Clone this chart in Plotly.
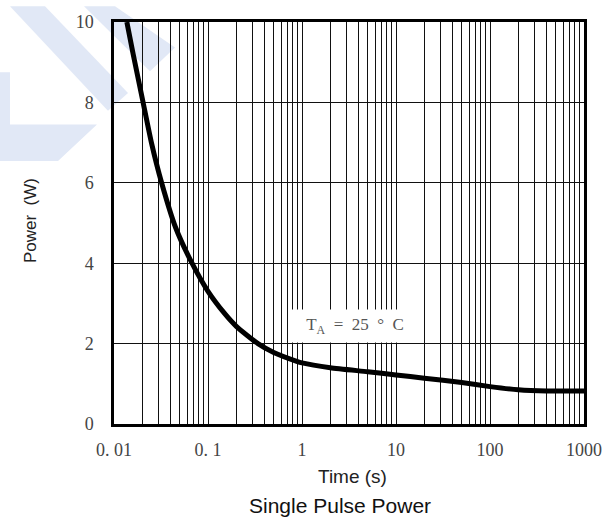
import math
import plotly.graph_objects as go

# ---- data ----
time_s = [0.0137, 0.016, 0.0204, 0.025, 0.0321, 0.045, 0.0676, 0.1, 0.15, 0.2, 0.34,
          0.5, 0.88, 1.0, 2.0, 5.0, 10.0, 20.0, 50.0, 100.0, 200.0, 400.0, 1000.0]
power_w = [10.0, 9.2, 8.0, 7.0, 6.0, 4.9, 4.0, 3.3, 2.75, 2.43, 2.0,
           1.78, 1.56, 1.52, 1.40, 1.30, 1.22, 1.14, 1.03, 0.93, 0.85, 0.82, 0.82]

x_decades = [0.01, 0.1, 1, 10, 100, 1000]
x_tick_labels = ["0. 01", "0. 1", "1", "10", "100", "1000"]
y_ticks = [0, 2, 4, 6, 8, 10]
y_tick_labels = ["0", "2", "4", "6", "8", "10"]

# ---- figure geometry (pixels) ----
W, H = 616, 519
L, R, T, B = 114, 32, 16, 95
PW, PH = W - L - R, H - T - B


def paper(px, py):
    return (px - L) / PW, (H - B - py) / PH


def path(points):
    pts = [paper(x, y) for x, y in points]
    return "M " + " L ".join(f"{x:.4f},{y:.4f}" for x, y in pts) + " Z"


# all log grid positions (1..9 in each decade)
tickvals, ticktext = [], []
for d, lab in zip(x_decades[:-1], x_tick_labels[:-1]):
    for k in range(1, 10):
        tickvals.append(d * k)
        ticktext.append(lab if k == 1 else "")
tickvals.append(x_decades[-1])
ticktext.append(x_tick_labels[-1])

fig = go.Figure()
fig.add_trace(go.Scatter(
    x=time_s, y=power_w, mode="lines",
    line=dict(color="black", width=5, shape="spline", smoothing=0.6),
    showlegend=False, hoverinfo="skip",
))

wm = "rgb(225,232,246)"
shapes = [
    dict(type="path", xref="paper", yref="paper", layer="below", line_width=0, fillcolor=wm,
         path=path([(10, 0), (45, 0), (128, 88), (108, 106)])),
    dict(type="path", xref="paper", yref="paper", layer="below", line_width=0, fillcolor=wm,
         path=path([(84, 0), (115, 0), (175, 42), (150, 66)])),
    dict(type="path", xref="paper", yref="paper", layer="below", line_width=0, fillcolor=wm,
         path=path([(0, 67), (10, 67), (10, 120), (97, 120), (58, 157), (0, 157)])),
]

serif = "Liberation Serif, DejaVu Serif, serif"
tick_font = dict(family=serif, size=18, color="#444")
sans = "Liberation Sans, Arial, sans-serif"

ann_x, ann_y = 3.66, 2.45
tx, ty1 = paper(352, 477)
_, ty2 = paper(340, 507)
px_, py_ = paper(30, 218)

fig.update_layout(
    width=W, height=H,
    margin=dict(l=L, r=R, t=T, b=B),
    paper_bgcolor="white", plot_bgcolor="rgba(0,0,0,0)",
    shapes=shapes,
    xaxis=dict(
        type="log", range=[-2, 3],
        tickmode="array", tickvals=tickvals, ticktext=ticktext,
        showgrid=True, gridcolor="#111", gridwidth=1,
        showline=True, linecolor="black", linewidth=2.5, mirror=True,
        ticks="", ticklabelstandoff=8, tickfont=tick_font, zeroline=False,
    ),
    yaxis=dict(
        range=[0, 10], tickmode="array", tickvals=y_ticks, ticktext=y_tick_labels,
        showgrid=True, gridcolor="#111", gridwidth=1,
        showline=True, linecolor="black", linewidth=2.5, mirror=True,
        ticks="", ticklabelstandoff=14, tickfont=tick_font, zeroline=False,
    ),
    annotations=[
        dict(x=math.log10(ann_x), y=ann_y, xref="x", yref="y",
             text="T<sub>A</sub>  =  25  °  C", showarrow=False,
             font=dict(family=serif, size=17, color="#555"),
             bgcolor="white", width=122, height=28, borderpad=2),
        dict(x=px_, y=py_, xref="paper", yref="paper", text="Power  (W)", textangle=-90,
             showarrow=False, font=dict(family=sans, size=17, color="#222"),
             xanchor="center", yanchor="middle"),
        dict(x=tx, y=ty1, xref="paper", yref="paper", text="Time (s)",
             showarrow=False, font=dict(family=sans, size=19, color="#222"),
             xanchor="center", yanchor="middle"),
        dict(x=paper(340, 0)[0], y=ty2, xref="paper", yref="paper", text="Single Pulse Power",
             showarrow=False, font=dict(family=sans, size=21, color="#111"),
             xanchor="center", yanchor="middle"),
    ],
)

fig.write_html(
    "out.html",
    config={"displayModeBar": False},
    post_script="document.body.style.margin='0px';document.body.style.overflow='hidden';",
)
